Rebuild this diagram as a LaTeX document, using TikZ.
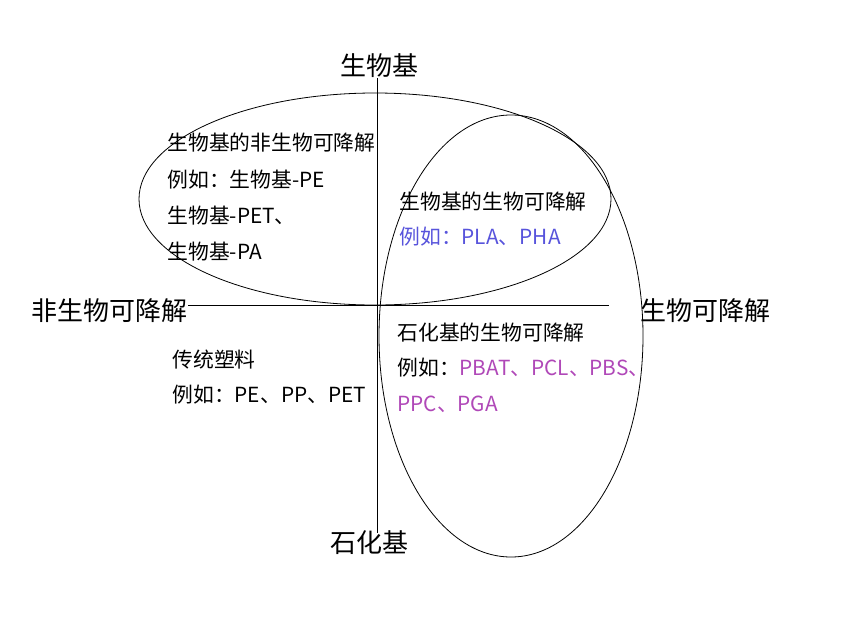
\documentclass[tikz,border=0pt]{standalone}
\usepackage{fontspec}
\setmainfont{Noto Sans CJK SC}
\definecolor{blueT}{RGB}{88,84,220}
\definecolor{purpleT}{RGB}{176,72,184}
\begin{document}
\begin{tikzpicture}[x=1pt,y=-1pt, line width=0.8pt,
  big/.style={font=\fontsize{26}{30}\selectfont, inner sep=0},
  txt/.style={font=\fontsize{20.8}{24}\selectfont, anchor=west, inner sep=0}]
\useasboundingbox[fill=white] (0,0) rectangle (851,635);
% ellipses
\draw (375,199) ellipse [x radius=236, y radius=106];
\draw (511,336) ellipse [x radius=132, y radius=221];
% axis labels
\node[big] (top) at (379,66) {生物基};
\node[big] (bot) at (369,543) {石化基};
\node[big, anchor=west] (left) at (31,311) {非生物可降解};
\node[big, anchor=west] (right) at (640,311) {生物可降解};
% axes
\coordinate (vt) at (377,78);
\coordinate (vb) at (377,533);
\coordinate (hl) at (188,305);
\coordinate (hr) at (609,305);
\draw (vt) -- (vb);
\draw (hl) -- (hr);
% upper left block
\node[txt] (a1) at (167,143) {生物基的非生物可降解};
\node[txt] (a2) at (167,180) {例如：生物基-PE};
\node[txt] (a3) at (167,216) {生物基-PET、};
\node[txt] (a4) at (167,252) {生物基-PA};
% upper right block
\node[txt] (b1) at (399,202) {生物基的生物可降解};
\node[txt, text=blueT] (b2) at (399,237) {例如：PLA、PHA};
% lower right block
\node[txt] (c1) at (397,333) {石化基的生物可降解};
\node[txt] (c2) at (397,368) {例如：\textcolor{purpleT}{PBAT、PCL、PBS、}};
\node[txt, text=purpleT] (c3) at (397,404) {PPC、PGA};
% lower left block
\node[txt] (d1) at (172,360) {传统塑料};
\node[txt] (d2) at (172,395) {例如：PE、PP、PET};
\end{tikzpicture}
\end{document}
